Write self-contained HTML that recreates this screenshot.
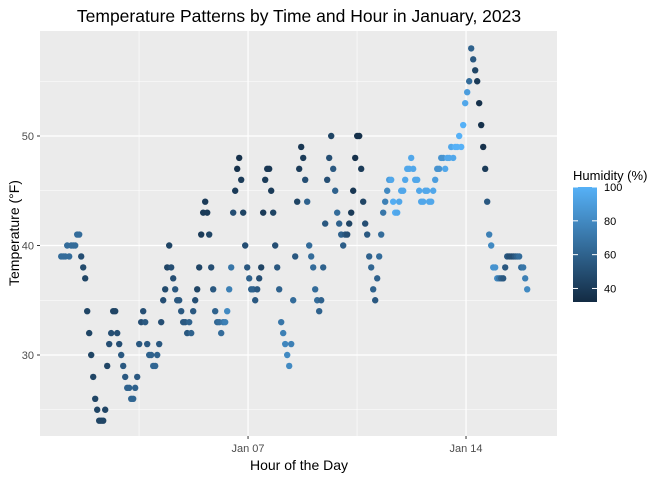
<!DOCTYPE html>
<html><head><meta charset="utf-8"><style>
body{margin:0;background:#fff;font-family:"Liberation Sans",sans-serif}
svg text{font-family:"Liberation Sans",sans-serif}
</style></head><body>
<svg id="chart" width="672" height="480" viewBox="0 0 672 480">
<defs><linearGradient id="hg" x1="0" y1="1" x2="0" y2="0"><stop offset="0" stop-color="#132B43"/><stop offset="1" stop-color="#56B1F7"/></linearGradient></defs>
<rect x="40" y="31" width="517" height="405" fill="#EBEBEB"/>
<g id="grid"></g><g id="pts"></g><g id="axes"></g>
<text x="299" y="22" text-anchor="middle" font-size="17.5" fill="#000">Temperature Patterns by Time and Hour in January, 2023</text>
<text x="299" y="470" text-anchor="middle" font-size="14" fill="#000">Hour of the Day</text>
<text transform="translate(19,233) rotate(-90)" text-anchor="middle" font-size="14" fill="#000">Temperature (°F)</text>
<g>
<text x="573" y="180" font-size="13" fill="#000">Humidity (%)</text>
<rect x="573" y="187" width="24" height="115" fill="url(#hg)"/>
<g id="leg"></g>
</g>
</svg>
<script>
const temps=[39,39,39,40,39,40,40,40,41,41,
39,38,37,34,32,30,28,26,25,24,
24,24,25,29,31,32,34,34,32,31,
30,29,28,27,27,26,26,27,28,31,
33,34,33,31,30,30,29,29,30,31,
33,35,36,38,40,38,37,36,35,35,
34,33,33,32,33,32,34,35,36,38,
41,43,44,43,41,38,36,34,33,33,
32,33,33,34,36,38,43,45,47,48,
46,43,40,38,37,36,36,35,36,37,
38,43,46,47,47,45,43,40,38,36,
33,32,31,30,29,31,35,39,44,47,
49,48,46,44,40,39,38,36,35,34,
35,38,42,46,48,50,47,45,43,42,
41,40,41,41,42,43,45,48,50,50,
47,44,42,41,39,38,36,35,37,39,
41,43,44,45,46,46,44,43,43,44,
45,45,46,47,47,48,47,46,46,45,
44,44,45,45,44,44,45,46,47,47,
48,48,47,48,48,49,48,49,49,50,
49,51,53,54,55,58,57,56,55,53,
51,49,47,44,41,40,38,38,37,37,
37,37,38,39,39,39,39,39,39,39,
38,38,37,36];
const humidity=[65,65,65,65,65,65,65,65,65,65,
50,48,45,45,45,45,45,45,45,45,
45,45,45,45,50,50,45,45,50,50,
55,55,55,60,60,62,62,60,55,55,
50,50,55,55,60,60,62,62,60,55,
50,50,48,45,45,50,50,55,55,55,
55,55,55,55,60,60,55,50,45,45,
40,40,40,40,45,50,55,60,62,65,
65,70,75,80,75,70,50,40,35,35,
40,45,50,55,60,60,60,55,55,50,
45,40,40,38,38,40,45,50,55,60,
70,75,78,80,80,75,65,55,45,40,
38,40,50,60,65,65,65,65,65,60,
60,60,55,50,50,45,55,60,65,60,
60,58,55,50,45,40,38,35,35,35,
40,45,50,55,60,62,60,55,60,65,
65,70,75,80,90,95,98,98,95,95,
95,95,95,95,95,95,95,95,95,95,
95,95,95,95,95,95,95,90,85,85,
85,85,95,95,95,95,95,100,100,100,
100,100,95,90,65,60,55,45,40,35,
35,35,40,55,75,80,85,85,80,70,
60,55,55,55,50,50,50,55,60,65,
65,70,75,80];
const hourStep=1.5414; // hours between readings, starting Jan 1 00:00
const yTicks=[30,40,50];
const yMinor=[25,35,45,55];
const xTickDays=[7,14];
const xTickLabels=["Jan 07","Jan 14"];
const xMinorDays=[3.5,10.5];
const legendVals=[40,60,80,100];
const legendLabels=["40","60","80","100"];
const NS="http://www.w3.org/2000/svg";
const X=d=>61.2+(d-1)*31.14;        // d = day of January (fractional)
const Y=t=>355-(t-30)*10.95;
const hMin=32,hMax=100;
const LY=h=>302-(h-hMin)/(hMax-hMin)*115;
function col(h){const f=Math.max(0,Math.min(1,(h-hMin)/(hMax-hMin)));
 const a=[0x13,0x2B,0x43],b=[0x56,0xB1,0xF7];
 return "rgb("+a.map((v,i)=>Math.round(v+(b[i]-v)*f)).join(",")+")";}
function mk(tag,at,parent){const e=document.createElementNS(NS,tag);for(const k in at)e.setAttribute(k,at[k]);parent.appendChild(e);return e;}
const grid=document.getElementById('grid'),pts=document.getElementById('pts'),axes=document.getElementById('axes'),leg=document.getElementById('leg');
yMinor.forEach(v=>{const l=mk('line',{x1:40,x2:557,y1:Y(v),y2:Y(v),stroke:'#fff','stroke-width':0.6},grid);

});
xMinorDays.forEach(v=>{const l=mk('line',{x1:X(v),x2:X(v),y1:31,y2:436,stroke:'#fff','stroke-width':0.6},grid);

});
yTicks.forEach(v=>{const l=mk('line',{x1:40,x2:557,y1:Y(v),y2:Y(v),stroke:'#fff','stroke-width':1.2},grid);


const tk=mk('line',{x1:37,x2:40,y1:Y(v),y2:Y(v),stroke:'#333','stroke-width':1},axes);


const t=mk('text',{x:34,y:Y(v)+4,'text-anchor':'end','font-size':11,fill:'#4D4D4D'},axes);t.textContent=v;

});
xTickDays.forEach((v,i)=>{const l=mk('line',{x1:X(v),x2:X(v),y1:31,y2:436,stroke:'#fff','stroke-width':1.2},grid);


const tk=mk('line',{x1:X(v),x2:X(v),y1:436,y2:439,stroke:'#333','stroke-width':1},axes);


const t=mk('text',{x:X(v),y:452,'text-anchor':'middle','font-size':11,fill:'#4D4D4D'},axes);t.textContent=xTickLabels[i];

});
temps.forEach((t,i)=>{const d=1+i*hourStep/24;
const c=mk('circle',{cx:X(d),cy:Y(t),r:3.2,fill:col(humidity[i])},pts);

});
legendVals.forEach((v,i)=>{const y=LY(v);
const a=mk('line',{x1:573,x2:578,y1:y,y2:y,stroke:'#fff','stroke-width':1},leg);


const b=mk('line',{x1:592,x2:597,y1:y,y2:y,stroke:'#fff','stroke-width':1},leg);


const t=mk('text',{x:604,y:y+4,'font-size':11,fill:'#000'},leg);t.textContent=legendLabels[i];

});
</script>
</body></html>
